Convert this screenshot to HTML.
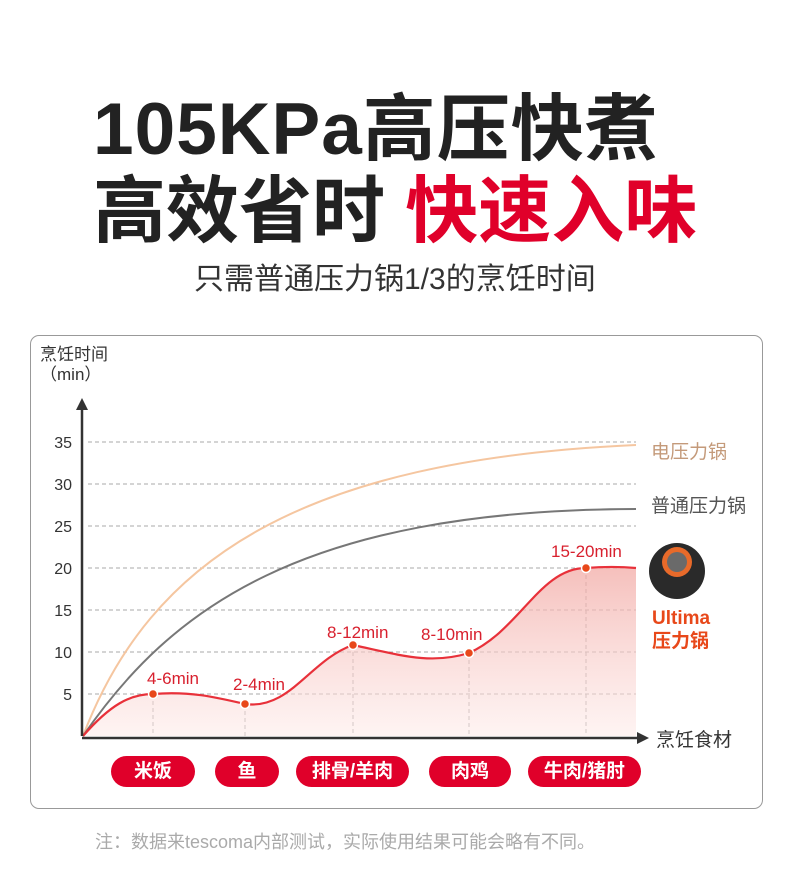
<!DOCTYPE html>
<html><head><meta charset="utf-8"><style>
body{margin:0;width:790px;height:879px;background:#fff;position:relative;overflow:hidden;font-family:"Liberation Sans","Noto Sans CJK SC",sans-serif}
.t{position:absolute;white-space:nowrap}
.pill{position:absolute;top:756px;height:31px;border-radius:16px;background:#e0002a;color:#fff;font-size:19px;font-weight:bold;text-align:center;line-height:31px}
</style></head><body>
<div class="t" style="left:93px;top:85px;font-size:73px;font-weight:bold;color:#222;letter-spacing:1px;line-height:90px">105KPa高压快煮</div>
<div class="t" style="left:93px;top:167px;font-size:73px;font-weight:bold;color:#222;line-height:90px">高效省时 <span style="color:#e0002a">快速入味</span></div>
<div class="t" style="left:194px;top:262px;font-size:30px;color:#333;line-height:36px">只需普通压力锅1/3的烹饪时间</div>
<div style="position:absolute;left:30px;top:335px;width:731px;height:472px;border:1.5px solid #999;border-radius:9px"></div>
<div class="t" style="left:40px;top:345px;font-size:17px;color:#333;line-height:20px">烹饪时间<br>（min）</div>
<svg style="position:absolute;left:0;top:0" width="790" height="879">
<defs><linearGradient id="g" x1="0" y1="0" x2="0" y2="1"><stop offset="0" stop-color="#f2aaa5" stop-opacity=".75"/><stop offset="1" stop-color="#fde8e6" stop-opacity=".5"/></linearGradient></defs>
<g stroke="#aaa" stroke-dasharray="4,3" stroke-width="1">
<line x1="88" y1="442" x2="636" y2="442"/><line x1="88" y1="484" x2="636" y2="484"/><line x1="88" y1="526" x2="636" y2="526"/><line x1="88" y1="568" x2="636" y2="568"/><line x1="88" y1="610" x2="636" y2="610"/><line x1="88" y1="652" x2="636" y2="652"/><line x1="88" y1="694" x2="636" y2="694"/>
<line x1="153" y1="694" x2="153" y2="736"/><line x1="245" y1="704" x2="245" y2="736"/><line x1="353" y1="645" x2="353" y2="736"/><line x1="469" y1="653" x2="469" y2="736"/><line x1="586" y1="568" x2="586" y2="736"/>
</g>
<g font-size="16" fill="#333" text-anchor="end"><text x="72" y="448">35</text><text x="72" y="490">30</text><text x="72" y="532">25</text><text x="72" y="574">20</text><text x="72" y="616">15</text><text x="72" y="658">10</text><text x="72" y="700">5</text></g>
<path d="M83,736 C150,560 300,460 636,445" fill="none" stroke="#f5c6a0" stroke-width="2"/>
<path d="M83,736 C170,610 300,510 636,509" fill="none" stroke="#777" stroke-width="2"/>
<path d="M83,736 C110,705 130,694 153,694 C190,691 215,697 245,704 C290,710 310,660 353,645 C400,655 430,665 469,653 C520,630 540,568 586,568 C610,566 625,567 636,568 L636,736 Z" fill="url(#g)"/>
<path d="M83,736 C110,705 130,694 153,694 C190,691 215,697 245,704 C290,710 310,660 353,645 C400,655 430,665 469,653 C520,630 540,568 586,568 C610,566 625,567 636,568" fill="none" stroke="#e8313a" stroke-width="2.2"/>
<g fill="#e8481a" stroke="#fff" stroke-width="1.5"><circle cx="153" cy="694" r="4.5"/><circle cx="245" cy="704" r="4.5"/><circle cx="353" cy="645" r="4.5"/><circle cx="469" cy="653" r="4.5"/><circle cx="586" cy="568" r="4.5"/></g>
<g font-size="17" fill="#d8202e"><text x="147" y="684">4-6min</text><text x="233" y="690">2-4min</text><text x="327" y="638">8-12min</text><text x="421" y="640">8-10min</text><text x="551" y="557">15-20min</text></g>
<line x1="82" y1="736" x2="82" y2="405" stroke="#333" stroke-width="2.5"/><path d="M76,410 L82,398 L88,410 Z" fill="#333"/>
<line x1="82" y1="738" x2="640" y2="738" stroke="#333" stroke-width="2.5"/><path d="M637,732 L649,738 L637,744 Z" fill="#333"/>
<circle cx="677" cy="571" r="28" fill="#2a2a2a"/><circle cx="677" cy="562" r="15" fill="#e86a2a"/><circle cx="677" cy="562" r="10" fill="#6a6a6a"/>
</svg>
<div class="t" style="left:651px;top:437px;font-size:19px;color:#c49a7a">电压力锅</div>
<div class="t" style="left:651px;top:491px;font-size:19px;color:#555">普通压力锅</div>
<div class="t" style="left:652px;top:607px;font-size:19px;font-weight:bold;color:#e8481a;line-height:23px">Ultima<br>压力锅</div>
<div class="t" style="left:656px;top:725px;font-size:19px;color:#333">烹饪食材</div>
<div class="pill" style="left:111px;width:84px">米饭</div>
<div class="pill" style="left:215px;width:64px">鱼</div>
<div class="pill" style="left:296px;width:113px">排骨/羊肉</div>
<div class="pill" style="left:429px;width:82px">肉鸡</div>
<div class="pill" style="left:528px;width:113px">牛肉/猪肘</div>
<div class="t" style="left:95px;top:828px;font-size:18px;color:#aaa">注：数据来tescoma内部测试，实际使用结果可能会略有不同。</div>
</body></html>
